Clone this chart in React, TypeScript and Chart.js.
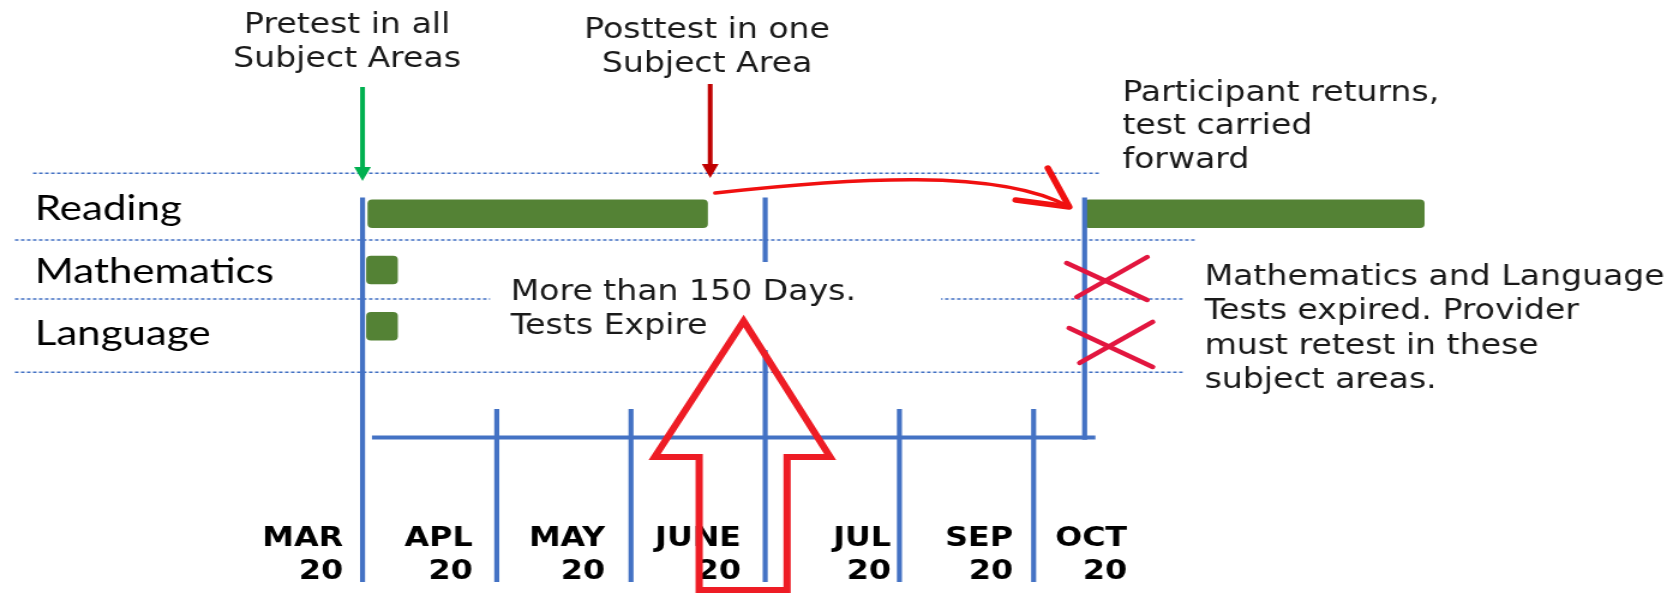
import React, { useEffect, useRef } from 'react';
import { Chart, registerables } from 'chart.js';

Chart.register(...registerables);

// ---------------- data ----------------
// x values are months counted from the start of March 2020 (MAR = 0, APL = 1, ...)
const rows = ['Reading', 'Mathematics', 'Language'];
const pretestPeriod: ([number, number] | null)[] = [[0.04, 2.57], [0.03, 0.26], [0.03, 0.26]];
const returnPeriod: ([number, number] | null)[] = [[5.38, 7.91], null, null];
const monthLabels: string[][] = [
  ['MAR', '20'], ['APL', '20'], ['MAY', '20'], ['JUNE', '20'], ['JUL', '20'], ['SEP', '20'], ['OCT', '20'],
];
const monthLabelAt = [-0.145, 0.821, 1.807, 2.82, 3.938, 4.847, 5.697];
const fullMonthLines = [0, 3];
const shortMonthLines = [1, 2, 4, 5];
const returnMonth = 5.38;

// ---------------- layout / style ----------------
const SX = 1.2; // horizontal stretch of the picture
const OUT_W = 1673;
const OUT_H = 596;
const CW = Math.round(OUT_W / SX);
const UNIT = 134.2 / SX;
const ORIGIN = 362.5 / SX;
const X_MIN = -0.2;
const X_MAX = 9.75;
const AREA_LEFT = ORIGIN + X_MIN * UNIT;
const AREA_RIGHT = ORIGIN + X_MAX * UNIT;
const ROW_H = 56.25;
const FIRST_ROW = 213.75;
const AREA_TOP = FIRST_ROW - ROW_H / 2;
const AREA_BOTTOM = AREA_TOP + rows.length * ROW_H;
const PAD_LEFT = 29;
const LABEL_FIRST = 209;
const LABEL_STEP = 62.5;
const MONTH_FONT = 26.5;
const MONTH_LINE = 33.5;
const MONTH_FIRST = 539;

const GREEN = '#548235';
const BLUE = '#4472C4';
const TEXT = '#1a1a1a';
const ANN_FONT = '27.6px "DejaVu Sans"';
const TEXT_DY = 3.5;

// annotation geometry (x in months, y in row units)
const separators = [
  { r: -0.719, from: -2.455, to: 5.5 },
  { r: 0.467, from: -2.59, to: 6.2 },
  { r: 1.516, from: -2.59, to: 6.11 },
  { r: 2.819, from: -2.59, to: 6.11 },
];
const lineTop = -0.289;
const tickTop = 3.471;
const axisRow = 3.978;
const lineBottom = 6.547;
const axisFrom = 0.07;
const axisTo = 5.46;

const noteBox = { x1: 0.95, x2: 4.31, r1: 0.858, r2: 2.422 };

function drawText(ctx: CanvasRenderingContext2D, lines: string[], x: number, y: number, align: CanvasTextAlign, step: number) {
  ctx.textAlign = align;
  ctx.textBaseline = 'middle';
  lines.forEach((t, i) => ctx.fillText(t, x, y + TEXT_DY + i * step));
}

function downArrow(ctx: CanvasRenderingContext2D, x: number, y1: number, y2: number, color: string) {
  const headLen = 14;
  const headW = 14;
  ctx.strokeStyle = color;
  ctx.fillStyle = color;
  ctx.lineWidth = 4;
  ctx.lineCap = 'butt';
  ctx.beginPath();
  ctx.moveTo(x, y1);
  ctx.lineTo(x, y2 - headLen + 1);
  ctx.stroke();
  ctx.beginPath();
  ctx.moveTo(x - headW / 2, y2 - headLen);
  ctx.lineTo(x + headW / 2, y2 - headLen);
  ctx.lineTo(x, y2);
  ctx.closePath();
  ctx.fill();
}

const annotationPlugin = {
  id: 'annotations',
  afterDatasetsDraw(chart: any) {
    const ctx: CanvasRenderingContext2D = chart.ctx;
    const xs = chart.scales.x;
    const ys = chart.scales.y;
    const X = (v: number) => xs.getPixelForValue(v);
    const Y = (r: number) => ys.getPixelForValue(r);
    ctx.save();

    // dotted separators
    ctx.strokeStyle = BLUE;
    ctx.lineWidth = 1.5;
    ctx.setLineDash([3, 2]);
    separators.forEach((s) => {
      ctx.beginPath();
      ctx.moveTo(X(s.from), Y(s.r));
      ctx.lineTo(X(s.to), Y(s.r));
      ctx.stroke();
    });
    ctx.setLineDash([]);

    // time axis
    ctx.lineWidth = 4.2;
    ctx.lineCap = 'butt';
    const vline = (v: number, r1: number, r2: number) => {
      ctx.beginPath();
      ctx.moveTo(X(v), Y(r1));
      ctx.lineTo(X(v), Y(r2));
      ctx.stroke();
    };
    fullMonthLines.forEach((v) => vline(v, lineTop, lineBottom));
    shortMonthLines.forEach((v) => vline(v, tickTop, lineBottom));
    vline(returnMonth, lineTop, axisRow + 0.04);
    ctx.beginPath();
    ctx.moveTo(X(axisFrom), Y(axisRow));
    ctx.lineTo(X(axisTo), Y(axisRow));
    ctx.stroke();

    // white note box
    ctx.fillStyle = '#ffffff';
    ctx.fillRect(X(noteBox.x1), Y(noteBox.r1), X(noteBox.x2) - X(noteBox.x1), Y(noteBox.r2) - Y(noteBox.r1));

    // texts
    ctx.fillStyle = TEXT;
    ctx.font = ANN_FONT;
    drawText(ctx, ['More than 150 Days.', 'Tests Expire'], X(1.121) - 2, Y(1.338), 'left', 34);
    drawText(ctx, ['Pretest in all', 'Subject Areas'], X(-0.115), Y(-3.396), 'center', 33.5);
    drawText(ctx, ['Posttest in one', 'Subject Area'], X(2.567), Y(-3.32), 'center', 34);
    drawText(ctx, ['Participant returns,', 'test carried', 'forward'], X(5.679) - 2, Y(-2.2), 'left', 33.8);
    drawText(ctx, ['Mathematics and Language', 'Tests expired. Provider', 'must retest in these', 'subject areas.'], X(6.291) - 2, Y(1.08), 'left', 34.3);

    // small arrows
    downArrow(ctx, X(0), Y(-2.253), Y(-0.582), '#00B050');
    downArrow(ctx, X(2.59), Y(-2.307), Y(-0.636), '#C00000');

    // curved arrow
    ctx.strokeStyle = '#F01010';
    ctx.lineWidth = 3.5;
    ctx.lineCap = 'round';
    ctx.lineJoin = 'round';
    ctx.beginPath();
    ctx.moveTo(X(2.627), Y(-0.369));
    ctx.bezierCurveTo(X(3.633), Y(-0.636), X(4.75), Y(-0.813), X(5.265), Y(-0.12));
    ctx.stroke();
    ctx.lineWidth = 5.5;
    ctx.beginPath();
    ctx.moveTo(X(5.106), Y(-0.813));
    ctx.lineTo(X(5.265), Y(-0.12));
    ctx.lineTo(X(4.866), Y(-0.244));
    ctx.stroke();

    // red crosses
    ctx.strokeStyle = '#E2163F';
    ctx.lineWidth = 4.5;
    const seg = (a: number[], b: number[]) => {
      ctx.beginPath();
      ctx.moveTo(X(a[0]), Y(a[1]));
      ctx.lineTo(X(b[0]), Y(b[1]));
      ctx.stroke();
    };
    seg([5.246, 0.876], [5.846, 1.533]);
    seg([5.846, 0.769], [5.321, 1.48]);
    seg([5.264, 2.031], [5.887, 2.724]);
    seg([5.887, 1.924], [5.343, 2.653]);

    // big outlined arrow
    ctx.strokeStyle = '#EE1C25';
    ctx.lineWidth = 6;
    ctx.lineJoin = 'miter';
    ctx.lineCap = 'butt';
    ctx.beginPath();
    ctx.moveTo(X(2.839), Y(1.907));
    ctx.lineTo(X(3.484), Y(4.324));
    ctx.lineTo(X(3.163), Y(4.324));
    ctx.lineTo(X(3.163), Y(6.689));
    ctx.lineTo(X(2.508), Y(6.689));
    ctx.lineTo(X(2.508), Y(4.324));
    ctx.lineTo(X(2.176), Y(4.324));
    ctx.closePath();
    ctx.stroke();

    ctx.restore();
  },
};

export default function App() {
  const ref = useRef<HTMLCanvasElement>(null);

  useEffect(() => {
    const canvas = ref.current;
    if (!canvas) return;
    const labelMin = (AREA_TOP - LABEL_FIRST) / LABEL_STEP;
    const labelMax = (AREA_BOTTOM - LABEL_FIRST) / LABEL_STEP;
    const chart = new Chart(canvas, {
      type: 'bar',
      data: {
        labels: rows,
        datasets: [
          {
            label: 'Pretest period',
            data: pretestPeriod as any,
            backgroundColor: GREEN,
            borderRadius: 4,
            borderSkipped: false,
            barThickness: 28,
            grouped: false,
            xAxisID: 'x',
            yAxisID: 'y',
          },
          {
            label: 'Carried forward',
            data: returnPeriod as any,
            backgroundColor: GREEN,
            borderRadius: 4,
            borderSkipped: false,
            barThickness: 28,
            grouped: false,
            xAxisID: 'x',
            yAxisID: 'y',
          },
        ],
      },
      options: {
        indexAxis: 'y',
        responsive: false,
        animation: false,
        devicePixelRatio: 1,
        layout: { padding: { left: PAD_LEFT, right: CW - AREA_RIGHT, top: AREA_TOP, bottom: 0 } },
        plugins: { legend: { display: false }, tooltip: { enabled: false } },
        scales: {
          x: {
            type: 'linear',
            position: 'bottom',
            bounds: 'data',
            offset: false,
            min: X_MIN,
            max: X_MAX,
            grid: { display: false, drawTicks: false },
            border: { display: false },
            afterBuildTicks: (s: any) => {
              s.ticks = monthLabelAt.map((v) => ({ value: v }));
            },
            afterFit: (s: any) => {
              s.height = OUT_H - AREA_BOTTOM;
            },
            ticks: {
              autoSkip: false,
              maxRotation: 0,
              minRotation: 0,
              align: 'end',
              padding: MONTH_FIRST - AREA_BOTTOM - MONTH_LINE / 2,
              color: '#000',
              font: { family: '"DejaVu Sans"', size: MONTH_FONT, weight: 'bold', lineHeight: MONTH_LINE / MONTH_FONT },
              callback: (_v: any, i: number) => monthLabels[i],
            },
          },
          y: { type: 'category', display: false, offset: true },
          yl: {
            type: 'linear',
            position: 'left',
            bounds: 'data',
            offset: false,
            reverse: true,
            min: labelMin,
            max: labelMax,
            grid: { display: false, drawTicks: false, offset: false },
            border: { display: false },
            afterBuildTicks: (s: any) => {
              s.ticks = rows.map((_r, i) => ({ value: i }));
            },
            afterFit: (s: any) => {
              s.width = AREA_LEFT - PAD_LEFT;
            },
            ticks: {
              autoSkip: false,
              crossAlign: 'far',
              padding: 0,
              color: '#000',
              font: { family: 'Lato', size: 35 },
              callback: (_v: any, i: number) => rows[i],
            },
          },
        } as any,
      },
      plugins: [annotationPlugin],
    });
    return () => chart.destroy();
  }, []);

  return (
    <div style={{ position: 'absolute', left: 0, top: 0, width: OUT_W, height: OUT_H, background: '#fff' }}>
      <canvas ref={ref} width={CW} height={OUT_H} style={{ width: OUT_W + 'px', height: OUT_H + 'px', display: 'block' }} />
    </div>
  );
}
